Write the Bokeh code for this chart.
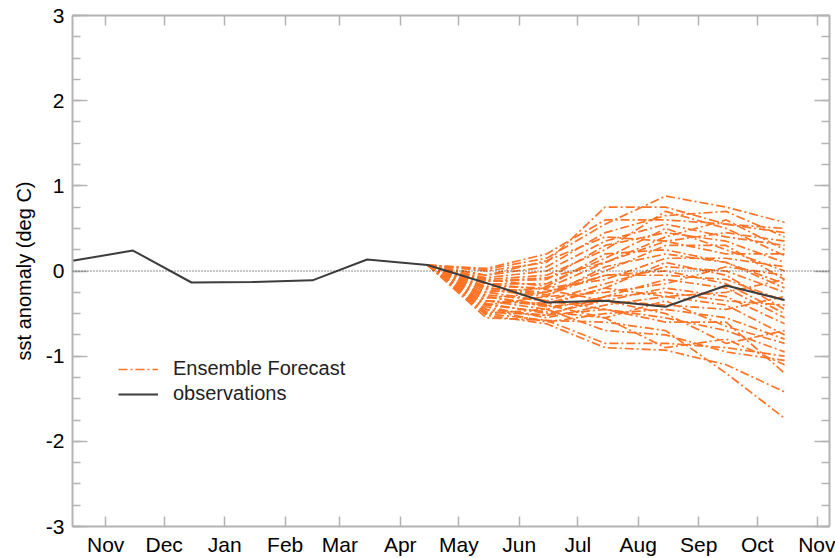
import pandas as pd
from bokeh.plotting import figure
from bokeh.models import (Range1d, FixedTicker, SingleIntervalTicker, LinearAxis,
                          Span, Legend, LegendItem, CustomLabelingPolicy)
from bokeh.embed import file_html
from bokeh.resources import INLINE

REF = pd.Timestamp("2012-11-01")


def day(s):
    return (pd.Timestamp(s) - REF).days


# ---- axis ticks -------------------------------------------------------------
month_ticks = ["2012-11-01", "2012-12-01", "2013-01-01", "2013-02-01", "2013-03-01",
               "2013-04-01", "2013-05-01", "2013-06-01", "2013-07-01", "2013-08-01",
               "2013-09-01", "2013-10-01", "2013-11-01"]
month_labels = ["Nov", "Dec", "Jan", "Feb", "Mar", "Apr", "May", "Jun", "Jul",
                "Aug", "Sep", "Oct", "Nov"]
y_ticks = [-3, -2, -1, 0, 1, 2, 3]
y_labels = ["-3", "-2", "-1", "0", "1", "2", "3"]
x_start, x_end = "2012-10-15", "2013-11-07"

# ---- observations -----------------------------------------------------------
obs_dates = ["2012-10-15", "2012-11-15", "2012-12-15", "2013-01-15", "2013-02-15",
             "2013-03-15", "2013-04-15", "2013-05-15", "2013-06-15", "2013-07-15",
             "2013-08-15", "2013-09-15", "2013-10-15"]
obs_values = [0.12, 0.24, -0.135, -0.13, -0.11, 0.135, 0.07, -0.14, -0.37, -0.35,
              -0.42, -0.17, -0.34]

# ---- ensemble forecast (Apr start, then May..Oct) ---------------------------
fc_dates = ["2013-04-15", "2013-05-15", "2013-06-15", "2013-07-15", "2013-08-15",
            "2013-09-15", "2013-10-15"]
fc_start = 0.07
members = [
    [0.02, 0.15, 0.55, 0.88, 0.75, 0.57],
    [0.00, 0.10, 0.75, 0.75, 0.55, 0.45],
    [-0.05, 0.05, 0.45, 0.65, 0.70, 0.40],
    [-0.08, 0.00, 0.35, 0.55, 0.40, 0.30],
    [-0.10, -0.05, 0.25, 0.70, 0.50, 0.18],
    [-0.12, -0.10, 0.30, 0.45, 0.35, 0.10],
    [-0.15, -0.15, 0.15, 0.50, 0.25, 0.00],
    [-0.18, -0.20, 0.10, 0.35, 0.20, 0.20],
    [-0.20, -0.25, 0.00, 0.30, 0.30, -0.10],
    [-0.22, -0.30, 0.05, 0.20, 0.10, -0.20],
    [-0.25, -0.20, -0.10, 0.15, 0.15, 0.05],
    [-0.28, -0.35, -0.15, 0.05, 0.00, -0.25],
    [-0.30, -0.40, -0.20, 0.10, -0.05, -0.45],
    [-0.32, -0.25, -0.05, -0.05, -0.10, -0.35],
    [-0.35, -0.45, -0.30, -0.10, -0.20, -0.55],
    [-0.38, -0.50, -0.35, -0.20, -0.30, -0.62],
    [-0.40, -0.30, -0.25, -0.15, 0.05, -0.05],
    [-0.42, -0.55, -0.40, -0.30, -0.40, -0.75],
    [-0.45, -0.60, -0.50, -0.45, -0.55, -0.80],
    [-0.48, -0.52, -0.45, -0.55, -0.70, -0.95],
    [-0.50, -0.58, -0.85, -0.85, -0.90, -1.00],
    [-0.52, -0.62, -0.90, -0.93, -1.10, -1.42],
    [-0.55, -0.58, -0.60, -0.70, -1.20, -1.73],
    [-0.35, -0.40, -0.55, -0.90, -0.80, -1.10],
    [-0.25, -0.35, -0.45, -0.60, -0.60, -1.20],
    [-0.15, -0.22, -0.35, -0.50, -0.85, -0.70],
    [-0.05, 0.12, 0.40, 0.35, 0.45, 0.35],
    [-0.10, -0.18, 0.20, 0.25, 0.10, -0.15],
    [-0.20, -0.28, -0.05, 0.00, -0.15, -0.50],
    [-0.30, -0.42, -0.35, -0.40, -0.45, -0.30],
    [0.03, 0.20, 0.60, 0.60, 0.55, 0.50],
    [-0.40, -0.48, -0.55, -0.35, -0.65, -0.85],
    [-0.45, -0.52, -0.30, -0.25, -0.35, -0.40],
    [-0.12, -0.08, 0.10, 0.40, 0.60, 0.25],
    [-0.35, -0.38, -0.20, -0.30, -0.25, -0.10],
    [-0.50, -0.45, -0.70, -0.75, -0.95, -1.05],
]

# ---- styling ----------------------------------------------------------------
FONT = "Liberation Sans"
AXIS_GREY = "#b3b3b3"
ORANGE = "#ff7426"
OBS_COLOR = "#3d3d3d"

tick_pos = [day(d) for d in month_ticks]
x_label_map = {pos: lab for pos, lab in zip(tick_pos, month_labels)}
y_label_map = {t: lab for t, lab in zip(y_ticks, y_labels)}

p = figure(width=835, height=558, output_backend="svg", toolbar_location=None,
           x_range=Range1d(day(x_start), day(x_end)), y_range=Range1d(-3, 3),
           min_border_left=72, min_border_right=6, min_border_top=15,
           min_border_bottom=32)
p.grid.visible = False
p.outline_line_color = None
p.background_fill_color = "white"
p.border_fill_color = "white"

no_labels = CustomLabelingPolicy(code="return []")


def style_axis(ax, labels=True):
    ax.axis_line_color = AXIS_GREY
    ax.axis_line_width = 2
    ax.major_tick_line_color = AXIS_GREY
    ax.major_tick_line_width = 1.5
    ax.minor_tick_line_color = AXIS_GREY
    ax.minor_tick_line_width = 1.5
    ax.major_tick_out = 0
    ax.minor_tick_out = 0
    ax.major_label_text_font = FONT
    ax.major_label_text_color = "black"
    if labels:
        ax.major_label_text_font_size = "21px"
    else:
        ax.major_label_policy = no_labels
        ax.major_label_text_font_size = "1px"
        ax.major_label_standoff = 0


# bottom x axis
xa = p.xaxis[0]
xa.ticker = FixedTicker(ticks=tick_pos, minor_ticks=[])
xa.major_label_overrides = x_label_map
style_axis(xa)
xa.major_tick_in = 10
xa.major_label_standoff = 6

# left y axis
ya = p.yaxis[0]
ya.ticker = SingleIntervalTicker(interval=1, num_minor_ticks=4)
ya.major_label_overrides = y_label_map
style_axis(ya)
ya.major_tick_in = 15
ya.minor_tick_in = 8
ya.major_label_standoff = 8
ya.axis_label = "sst anomaly (deg C)"
ya.axis_label_text_font = FONT
ya.axis_label_text_font_size = "20px"
ya.axis_label_text_font_style = "normal"
ya.axis_label_text_color = "black"
ya.axis_label_standoff = 8

# top and right axes (ticks only)
top = LinearAxis(ticker=FixedTicker(ticks=tick_pos, minor_ticks=[]))
top.major_label_overrides = {pos: "" for pos in tick_pos}
style_axis(top, labels=False)
top.major_tick_in = 10
p.add_layout(top, "above")

right = LinearAxis(ticker=SingleIntervalTicker(interval=1, num_minor_ticks=4))
right.major_label_overrides = {t: "" for t in y_ticks}
style_axis(right, labels=False)
right.major_tick_in = 15
right.minor_tick_in = 8
p.add_layout(right, "right")

# ensemble
fx = [day(d) for d in fc_dates]
xs = [fx for _ in members]
ys = [[fc_start] + m for m in members]
ens = p.multi_line(xs, ys, line_color=ORANGE, line_width=1.7, line_dash="9 3 2 3")

# zero line
p.add_layout(Span(location=0, dimension="width", line_color="#222222",
                  line_width=1, line_dash="1 2"))

# observations
ox = [day(d) for d in obs_dates]
obs = p.line(ox, obs_values, line_color=OBS_COLOR, line_width=2)

legend = Legend(items=[LegendItem(label="Ensemble Forecast", renderers=[ens]),
                       LegendItem(label="observations", renderers=[obs])],
                location=(46, 121), orientation="vertical")
legend.background_fill_alpha = 0
legend.border_line_color = None
legend.padding = 0
legend.margin = 0
legend.spacing = 2
legend.glyph_width = 40
legend.glyph_height = 20
legend.label_height = 20
legend.label_standoff = 15
legend.label_text_font = FONT
legend.label_text_font_size = "20px"
legend.label_text_color = "#222222"
p.add_layout(legend, "center")

open("out.html", "w").write(file_html(p, INLINE))
